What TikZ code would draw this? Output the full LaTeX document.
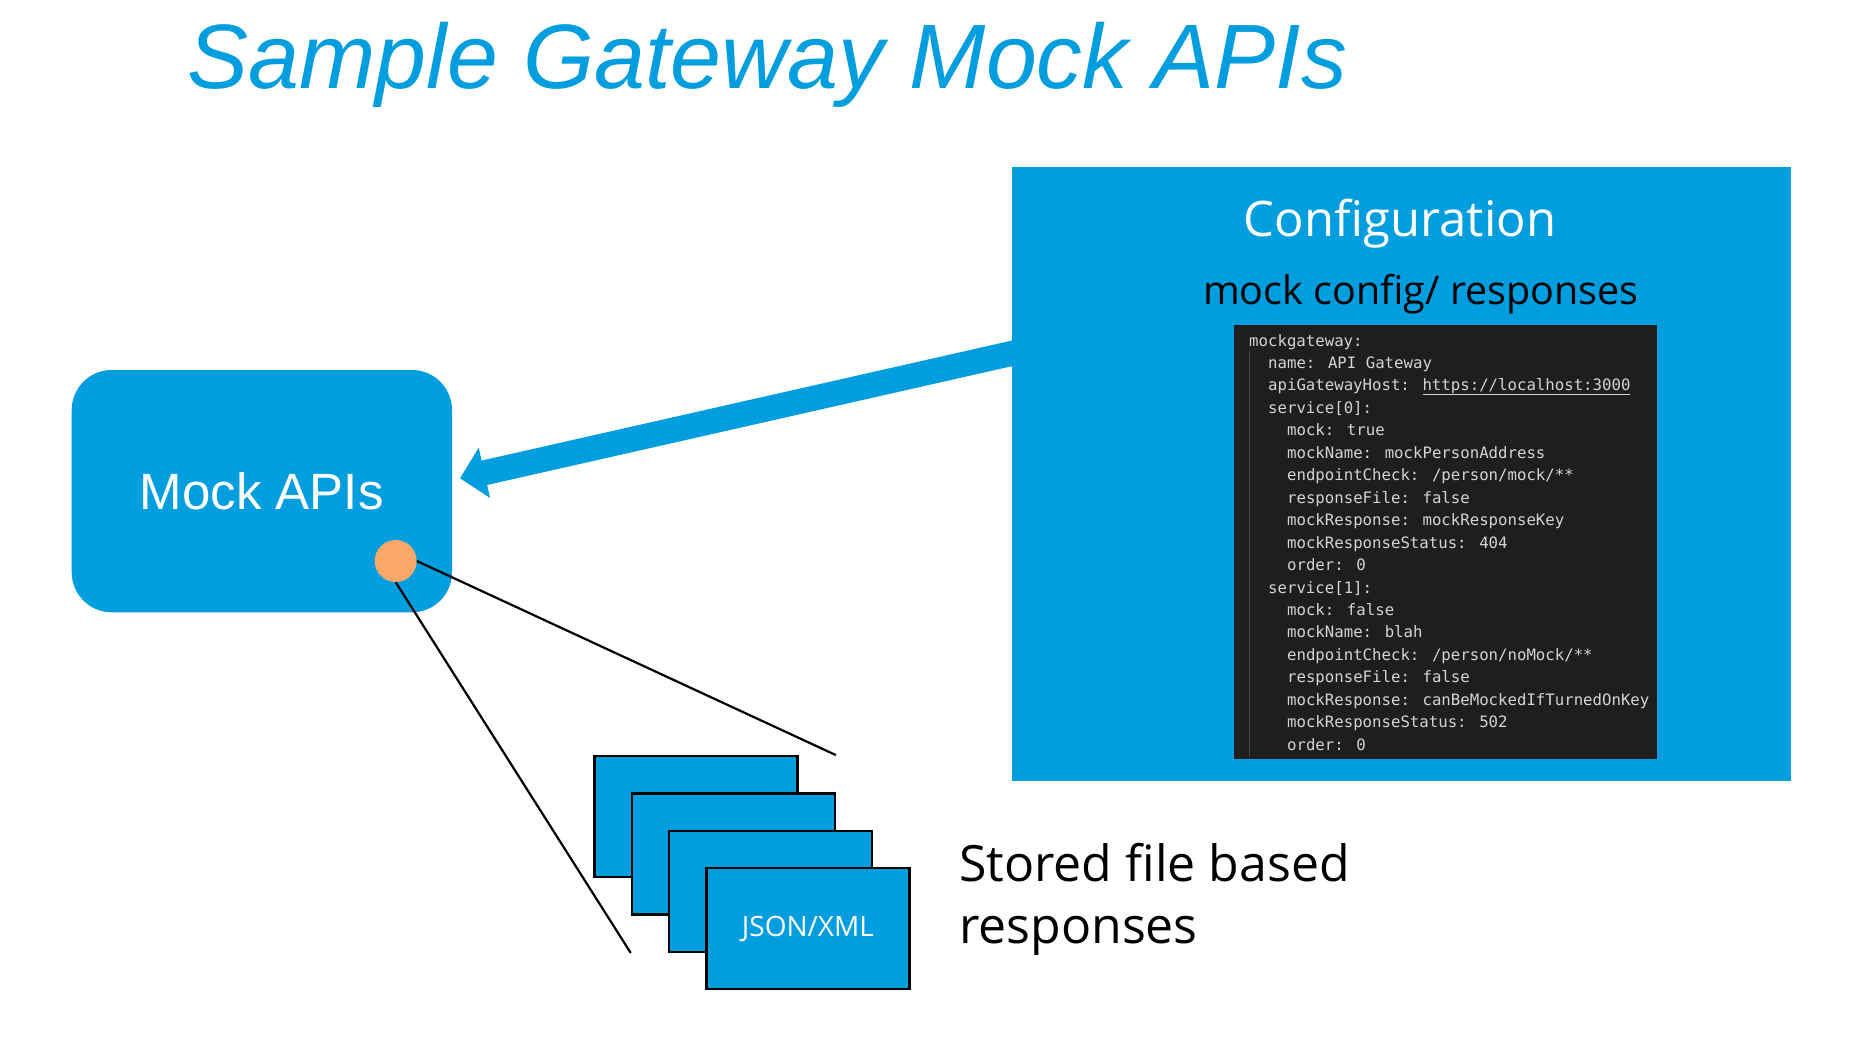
\documentclass[tikz,border=0pt]{standalone}
\usepackage{fontspec}
\setmainfont{Liberation Sans}
\newfontfamily\humanist{Open Sans}
\newfontfamily\codefont{DejaVu Sans Mono}
\usetikzlibrary{arrows.meta}

\definecolor{brandblue}{HTML}{009DDF}
\definecolor{dotorange}{HTML}{F9A86A}
\definecolor{editorbg}{HTML}{1E1E1E}
\definecolor{editortext}{HTML}{D4D4D4}
\definecolor{editorguide}{HTML}{474747}

% underlined link inside the YAML listing
\newcommand\codelink[1]{\setbox0\hbox{#1}\rlap{\rule[-4.3pt]{\wd0}{1.1pt}}\box0}

\begin{document}
\begin{tikzpicture}[x=1pt,y=-1pt,
  titletext/.style={anchor=base, inner sep=0pt, text=brandblue,
    font=\fontsize{91.5}{110}\selectfont\itshape},
  roundbox/.style={fill=brandblue, rounded corners=40pt, inner sep=0pt,
    text=white, font=\fontsize{51}{60}\selectfont},
  marker/.style={circle, fill=dotorange, minimum size=42pt, inner sep=0pt},
  filecard/.style={draw=black, line width=2.2pt, fill=brandblue,
    minimum width=203pt, minimum height=121pt, inner sep=0pt, text=white,
    font=\humanist\fontsize{28}{34}\selectfont},
  fanline/.style={black, line width=2.2pt},
  panel/.style={fill=brandblue, inner sep=0pt},
  editor/.style={fill=editorbg, inner sep=0pt},
  codeline/.style={anchor=base west, inner sep=0pt, text=editortext,
    font=\codefont\fontsize{15.7}{18}\selectfont},
  bigarrow/.style={brandblue, line width=25pt, -{Triangle[length=25pt,width=50pt]}},
  caption/.style={inner sep=0pt}
]
\useasboundingbox (0,0) rectangle (1857,1047);
\fill[white] (0,0) rectangle (1857,1047);

% heading
\node[titletext] (title) at (767.5,88.3) {Sample Gateway Mock APIs};

% mock service box
\node[roundbox, minimum width=380.3pt, minimum height=242.3pt] (mock) at (261.85,491.15) {Mock APIs};

% stack of stored response files
\node[filecard] (f1) at (696,816.7) {};
\node[filecard] (f2) at (733.3,854) {};
\node[filecard] (f3) at (770.6,891.3) {};
\node[filecard] (f4) at (807.9,928.6) {JSON/XML};

% two-line caption; its base anchor sits on the last line
\node[caption, anchor=base west, align=left, font=\humanist\fontsize{50}{61.6}\selectfont]
  (stored) at (959,943.3) {Stored file based\\responses};

% fan lines from the marker to the file stack
\coordinate (fanA) at (f2.east |- f1.north);
\coordinate (fanB) at (f2.west |- f3.south);
\node[marker] (dot) at (395.7,561) {};
\draw[fanline] (dot.east) -- (fanA);
\draw[fanline] (dot.south) -- (fanB);

% configuration feeds the mock service
\coordinate (arrowtail) at (1040,347);
\coordinate (arrowtip) at (460,478.3);
\draw[bigarrow] (arrowtail) -- (arrowtip);

% configuration panel
\node[panel, minimum width=778.7pt, minimum height=613.4pt] (cfg) at (1401.35,474) {};
\node[caption, anchor=base, text=white, font=\humanist\fontsize{49}{58}\selectfont]
  (cfgtitle) at (1400,236.7) {Configuration};
\node[caption, anchor=base, font=\humanist\fontsize{39.5}{47}\selectfont]
  (cfgsub) at (1421,304) {mock config/ responses};

% YAML listing
\node[editor, minimum width=422.7pt, minimum height=433.7pt] (code) at (1445.35,541.85) {};
\draw[editorguide, line width=1pt] (1249.5,351) -- (1249.5,757);
\foreach \lvl/\txt [count=\i from 0] in {
  0/{mockgateway:},
  1/{name: API Gateway},
  1/{apiGatewayHost: \codelink{https://localhost:3000}},
  1/{service[0]:},
  2/{mock: true},
  2/{mockName: mockPersonAddress},
  2/{endpointCheck: /person/mock/**},
  2/{responseFile: false},
  2/{mockResponse: mockResponseKey},
  2/{mockResponseStatus: 404},
  2/{order: 0},
  1/{service[1]:},
  2/{mock: false},
  2/{mockName: blah},
  2/{endpointCheck: /person/noMock/**},
  2/{responseFile: false},
  2/{mockResponse: canBeMockedIfTurnedOnKey},
  2/{mockResponseStatus: 502},
  2/{order: 0}}
  \node[codeline] (line\i) at ({1249+\lvl*18.94},{346+\i*22.46}) {\txt};

\end{tikzpicture}
\end{document}
